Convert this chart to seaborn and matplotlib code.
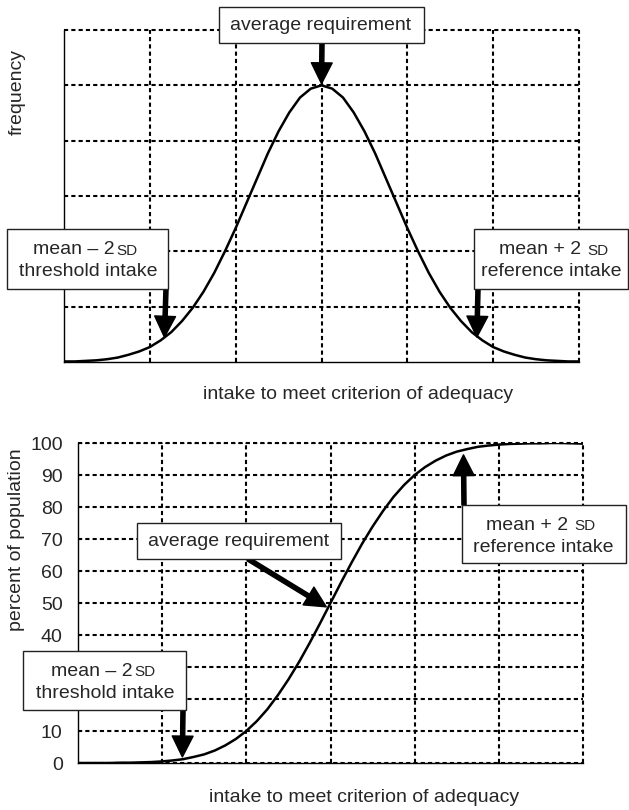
import seaborn as sns
import matplotlib.pyplot as plt
import numpy as np
import pandas as pd
from matplotlib.patches import Rectangle

sns.set_style('white')
plt.rcParams['font.family'] = ['Liberation Sans', 'DejaVu Sans']
plt.rcParams['font.size'] = 14

# intake in grid steps around the mean
intake = [-3.0, -2.875, -2.75, -2.625, -2.5, -2.375, -2.25, -2.125, -2.0, -1.875, -1.75, -1.625,
          -1.5, -1.375, -1.25, -1.125, -1.0, -0.875, -0.75, -0.625, -0.5, -0.375, -0.25, -0.125,
          0.0, 0.125, 0.25, 0.375, 0.5, 0.625, 0.75, 0.875, 1.0, 1.125, 1.25, 1.375,
          1.5, 1.625, 1.75, 1.875, 2.0, 2.125, 2.25, 2.375, 2.5, 2.625, 2.75, 2.875, 3.0]

# top panel: frequency (grid units, 6 rows)
frequency = [0.01, 0.01, 0.02, 0.03, 0.05, 0.08, 0.13, 0.19, 0.27, 0.39, 0.54, 0.74,
             0.98, 1.27, 1.61, 2.00, 2.42, 2.87, 3.32, 3.77, 4.17, 4.51, 4.78, 4.94,
             5.00, 4.94, 4.78, 4.51, 4.17, 3.77, 3.32, 2.87, 2.42, 2.00, 1.61, 1.27,
             0.98, 0.74, 0.54, 0.39, 0.27, 0.19, 0.13, 0.08, 0.05, 0.03, 0.02, 0.01, 0.01]

# bottom panel: percent of population
percent = [0.0, 0.0, 0.0, 0.0, 0.1, 0.1, 0.2, 0.3, 0.5, 0.8, 1.2, 1.9,
           2.7, 3.9, 5.5, 7.5, 10.0, 13.1, 16.8, 21.2, 26.1, 31.5, 37.4, 43.6,
           50.0, 56.4, 62.6, 68.5, 73.9, 78.8, 83.2, 86.9, 90.0, 92.5, 94.5, 96.1,
           97.3, 98.1, 98.8, 99.2, 99.5, 99.7, 99.8, 99.9, 99.9, 100.0, 100.0, 99.9, 99.8]

pct_ticks = [0, 10, 20, 30, 40, 50, 60, 70, 80, 90, 100]
# 20 and 30 sit under the threshold box in the original
pct_labels = ['0', '10', '', '', '40', '50', '60', '70', '80', '90', '100']

df = pd.DataFrame({'intake': intake, 'frequency': frequency, 'percent': percent})

W, H = 629, 810


def fx(x):
    return x / W


def fy(y):
    return 1 - y / H


fig = plt.figure(figsize=(6.29, 8.10), dpi=100)
ax1 = fig.add_axes([fx(64), fy(362), fx(579 - 64), (362 - 30) / H])
ax2 = fig.add_axes([fx(78), fy(763), fx(583 - 78), (763 - 443) / H])

grid_kw = dict(color='black', linestyle=(0, (2, 1.5)), linewidth=1.5)

for ax in (ax1, ax2):
    ax.set_xlim(-3, 3)
    ax.set_xticks([-2, -1, 0, 1, 2])
    ax.tick_params(length=0)
    ax.grid(True, **grid_kw)
    ax.axvline(3, clip_on=False, **grid_kw)
    for s in ('top', 'right'):
        ax.spines[s].set_visible(False)
    for s in ('left', 'bottom'):
        ax.spines[s].set_color('black')
        ax.spines[s].set_linewidth(1.0)
    ax.set_xticklabels([])

# top: distribution
sns.lineplot(data=df, x='intake', y='frequency', ax=ax1, color='black', linewidth=1.8)
ax1.set_ylim(0, 6)
ax1.set_yticks([1, 2, 3, 4, 5])
ax1.set_yticklabels([])
ax1.axhline(6, clip_on=False, **grid_kw)
ax1.set_xlabel('')
ax1.set_ylabel('')

# bottom: cumulative
sns.lineplot(data=df, x='intake', y='percent', ax=ax2, color='black', linewidth=1.8)
ax2.set_ylim(0, 100)
ax2.set_yticks(pct_ticks)
ax2.set_yticklabels(pct_labels, fontsize=14)
ax2.tick_params(axis='y', pad=11)
ax2.axhline(100, clip_on=False, **grid_kw)
ax2.set_xlabel('')
ax2.set_ylabel('')

fig.text(fx(17), fy(92), 'frequency', rotation=90, ha='center', va='center', fontsize=14)
fig.text(fx(17), fy(540), 'percent of population', rotation=90, ha='center', va='center', fontsize=14)
fig.text(fx(358), fy(395), 'intake to meet criterion of adequacy', ha='center', va='center', fontsize=14)
fig.text(fx(364), fy(797), 'intake to meet criterion of adequacy', ha='center', va='center', fontsize=14)


def box(x0, y0, x1, y1):
    fig.add_artist(Rectangle((fx(x0), fy(y1)), fx(x1 - x0), (y1 - y0) / H,
                             transform=fig.transFigure, facecolor='white',
                             edgecolor='#222222', linewidth=1.0, zorder=10))


def txt(x, y, s, ha='center', size=14):
    fig.text(fx(x), fy(y), s, ha=ha, va='center', fontsize=size, zorder=11)


def arrow(ax, tip, tail):
    ax.annotate('', xy=tip, xycoords='data', xytext=(fx(tail[0]), fy(tail[1])),
                textcoords='figure fraction', annotation_clip=False,
                arrowprops=dict(facecolor='black', edgecolor='black', width=3,
                                headwidth=15, headlength=15, shrink=0))


# top panel annotations
arrow(ax1, (0, 5.03), (322, 43))
arrow(ax1, (-1.83, 0.45), (166, 289))
arrow(ax1, (1.81, 0.45), (478, 289))

box(219, 7, 424, 43)
txt(321, 25, 'average requirement')
box(7, 229, 168, 289)
txt(115, 250, 'mean – 2', ha='right')
txt(116, 251, 'SD', ha='left', size=11)
txt(88, 272, 'threshold intake')
box(474, 229, 628, 289)
txt(581, 250, 'mean + 2', ha='right')
txt(587, 251, 'SD', ha='left', size=11)
txt(551, 272, 'reference intake')

# bottom panel annotations
arrow(ax2, (-0.05, 48.8), (248, 559))
arrow(ax2, (-1.76, 1.9), (183, 710))
arrow(ax2, (1.58, 96.3), (464, 505))

box(137, 523, 341, 559)
txt(239, 541, 'average requirement')
box(23, 651, 186, 710)
txt(133, 671, 'mean – 2', ha='right')
txt(134, 672, 'SD', ha='left', size=11)
txt(105, 693, 'threshold intake')
box(462, 505, 626, 563)
txt(568, 525, 'mean + 2', ha='right')
txt(574, 526, 'SD', ha='left', size=11)
txt(543, 547, 'reference intake')

fig.savefig('out.png', dpi=100)
